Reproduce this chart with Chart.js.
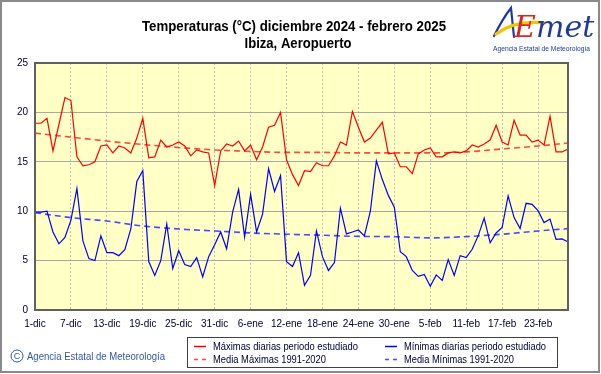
<!DOCTYPE html>
<html>
<head>
<meta charset="utf-8">
<script src="https://cdn.jsdelivr.net/npm/chart.js@4.4.1/dist/chart.umd.min.js"></script>
<style>
html,body{margin:0;padding:0;background:#fff;}
canvas{display:block;}
</style>
</head>
<body>
<canvas id="c" width="601" height="374"></canvas>
<script>
// ---- Data ----
const tickLabels = ['1-dic','7-dic','13-dic','19-dic','25-dic','31-dic','6-ene','12-ene','18-ene','24-ene','30-ene','5-feb','11-feb','17-feb','23-feb'];
const tickDays = [0,6,12,18,24,30,36,42,48,54,60,66,72,78,84];

const maxDaily = [
  18.9,18.9,19.4,16.1,18.8,21.5,21.2,15.5,14.6,14.7,
  15.0,16.6,16.7,15.9,16.6,16.4,15.9,17.4,19.4,15.4,
  15.5,17.2,16.5,16.7,17.0,16.6,15.6,16.2,16.0,15.9,
  12.6,16.1,16.8,16.6,17.1,16.1,16.7,15.2,16.5,18.5,
  18.7,20.0,15.2,13.7,12.6,14.1,14.0,14.9,14.6,14.6,
  15.6,17.0,16.7,20.1,18.5,17.0,17.4,18.2,19.0,15.8,
  15.9,14.5,14.5,13.8,15.8,16.2,16.4,15.5,15.5,15.9,
  16.0,15.9,16.1,16.7,16.5,16.8,17.2,18.7,17.0,16.7,
  19.2,17.7,17.7,17.0,17.2,16.7,19.6,16.0,16.0,16.3
];
const minDaily = [
  9.9,9.9,10.0,7.9,6.7,7.35,9.1,12.3,7.0,5.2,
  5.0,7.5,5.8,5.8,5.5,6.1,8.2,13.0,14.1,4.9,
  3.5,5.0,8.7,4.2,6.0,4.6,4.4,5.3,3.35,5.4,
  6.6,7.9,6.2,9.9,12.2,7.4,11.7,7.9,9.7,14.3,
  12.0,13.6,4.9,4.4,5.8,2.5,3.5,8.0,5.4,4.0,
  4.8,10.3,7.7,7.9,8.1,7.5,10.0,15.1,13.2,11.6,
  10.4,5.9,5.4,4.0,3.4,3.6,2.4,3.55,3.0,5.1,
  3.5,5.5,5.3,6.15,7.5,9.3,6.8,7.8,8.35,11.55,
  9.35,8.25,10.8,10.7,10.05,8.85,9.2,7.15,7.2,6.9
];
const normDays = [0,6,12,18,24,30,36,42,48,54,60,66,72,78,84,89];
const normMax = [17.9,17.5,17.1,16.75,16.45,16.2,16.05,15.95,15.95,15.9,15.9,15.9,16.0,16.3,16.6,16.9];
const normMin = [9.85,9.35,9.0,8.5,8.2,8.0,7.8,7.67,7.57,7.45,7.42,7.3,7.43,7.67,8.0,8.24];

const seriesLabels = ['Máximas diarias periodo estudiado','Mínimas diarias periodo estudiado','Media Máximas 1991-2020','Media Mínimas 1991-2020'];
const titleLines = ['Temperaturas (°C) diciembre 2024 - febrero 2025','Ibiza, Aeropuerto'];

const pts = (xs, ys) => ys.map((v, i) => ({x: xs ? xs[i] : i, y: v}));
const FONT = '"Liberation Sans", Arial, sans-serif';

// draw text condensed to a given width if it is wider
function fitText(ctx, t, x, y, w) {
  const m = ctx.measureText(t).width;
  if (m <= w) { ctx.fillText(t, x, y); return; }
  ctx.save();
  ctx.translate(x, y);
  ctx.scale(w / m, 1);
  ctx.fillText(t, 0, 0);
  ctx.restore();
}

const decor = {
  id: 'decor',
  beforeDraw(chart) {
    const {ctx, chartArea: a} = chart;
    ctx.save();
    ctx.fillStyle = '#ffffff';
    ctx.fillRect(0, 0, chart.width, chart.height);
    ctx.fillStyle = '#FFFFC6';
    ctx.fillRect(a.left, a.top, a.right - a.left, a.bottom - a.top);
    ctx.restore();
  },
  afterDraw(chart) {
    const {ctx, chartArea: a} = chart;
    ctx.save();
    // plot frame
    ctx.strokeStyle = '#606060';
    ctx.lineWidth = 2;
    ctx.strokeRect(a.left, a.top, a.right - a.left, a.bottom - a.top);
    // outer frame
    ctx.strokeStyle = '#8a8a8a';
    ctx.lineWidth = 2;
    ctx.strokeRect(1, 1, chart.width - 3, chart.height - 3);

    // title
    ctx.fillStyle = '#000000';
    ctx.textAlign = 'center';
    ctx.textBaseline = 'alphabetic';
    ctx.font = 'bold 14px ' + FONT;
    fitText(ctx, titleLines[0], 294, 31, 304);
    fitText(ctx, titleLines[1], 298, 48, 107);

    // legend box
    ctx.strokeStyle = '#404040';
    ctx.lineWidth = 1;
    ctx.strokeRect(187.5, 337.5, 370, 30);
    const ds = chart.data.datasets;
    const slots = [[194, 346], [385, 346], [194, 359], [385, 359]];
    const widths = [145, 142, 113, 110];
    ctx.textAlign = 'left';
    ctx.textBaseline = 'middle';
    ctx.font = '11px ' + FONT;
    ds.forEach((d, k) => {
      const [x, y] = slots[k];
      ctx.strokeStyle = d.borderColor;
      ctx.lineWidth = 1.5;
      ctx.setLineDash(d.borderDash ? [4, 4] : []);
      ctx.beginPath();
      ctx.moveTo(x, y + 0.5);
      ctx.lineTo(x + 12, y + 0.5);
      ctx.stroke();
      ctx.setLineDash([]);
      ctx.fillStyle = '#000033';
      fitText(ctx, d.label, x + 19, y + 1, widths[k]);
    });

    // copyright
    ctx.fillStyle = '#3355aa';
    ctx.strokeStyle = '#3355aa';
    ctx.lineWidth = 1;
    ctx.beginPath();
    ctx.arc(17, 356, 6, 0, Math.PI * 2);
    ctx.stroke();
    ctx.font = '9px ' + FONT;
    ctx.textAlign = 'center';
    ctx.fillText('C', 17, 356.5);
    ctx.textAlign = 'left';
    ctx.font = '11px ' + FONT;
    fitText(ctx, 'Agencia Estatal de Meteorología', 27, 356.5, 138);

    // logo
    ctx.lineCap = 'round';
    ctx.strokeStyle = '#1f3a9a';
    ctx.lineWidth = 2.2;
    ctx.beginPath();
    ctx.moveTo(494, 36);
    ctx.quadraticCurveTo(503, 18, 511, 8);
    ctx.lineTo(514, 37);
    ctx.stroke();
    ctx.strokeStyle = '#f5c400';
    ctx.lineWidth = 3.2;
    ctx.beginPath();
    ctx.moveTo(496, 34);
    ctx.quadraticCurveTo(515, 20, 545, 23);
    ctx.stroke();
    ctx.font = 'italic 30px "DejaVu Serif", serif';
    ctx.textBaseline = 'alphabetic';
    ctx.fillStyle = '#d8281e';
    ctx.fillText('E', 514, 37);
    ctx.fillStyle = '#1f3a9a';
    fitText(ctx, 'met', 536, 37, 60);
    ctx.font = '7px ' + FONT;
    ctx.fillStyle = '#1f3a9a';
    ctx.textAlign = 'left';
    fitText(ctx, 'Agencia Estatal de Meteorología', 493, 51, 97);
    ctx.restore();
  }
};

new Chart(document.getElementById('c'), {
  type: 'line',
  data: {
    datasets: [
      {label: seriesLabels[0], data: pts(null, maxDaily), borderColor: '#ff0000', borderWidth: 1.2, pointRadius: 0, tension: 0},
      {label: seriesLabels[1], data: pts(null, minDaily), borderColor: '#0000ff', borderWidth: 1.2, pointRadius: 0, tension: 0},
      {label: seriesLabels[2], data: pts(normDays, normMax), borderColor: '#ff4a3a', borderWidth: 1.6, borderDash: [6, 4], pointRadius: 0, cubicInterpolationMode: 'monotone'},
      {label: seriesLabels[3], data: pts(normDays, normMin), borderColor: '#4a4aff', borderWidth: 1.6, borderDash: [6, 4], pointRadius: 0, cubicInterpolationMode: 'monotone'}
    ]
  },
  options: {
    responsive: false,
    animation: false,
    devicePixelRatio: 1,
    layout: {padding: {left: 0, top: 63, right: 33, bottom: 0}},
    plugins: {legend: {display: false}, title: {display: false}, tooltip: {enabled: false}},
    scales: {
      x: {
        type: 'linear', min: 0, max: 89,
        afterFit: s => { s.height = 64; },
        afterBuildTicks: s => { s.ticks = tickDays.map(v => ({value: v})); },
        ticks: {
          autoSkip: false, maxRotation: 0, padding: 8,
          color: '#000033',
          font: {family: FONT, size: 10},
          callback: (v) => tickLabels[tickDays.indexOf(v)]
        },
        grid: {color: '#bdbdbd', lineWidth: 1, drawTicks: false},
        border: {display: true, color: '#606060', width: 2, dash: [2, 2]}
      },
      y: {
        min: 0, max: 25,
        afterFit: s => { s.width = 35; },
        ticks: {
          stepSize: 5, padding: 7,
          color: '#000033',
          font: {family: FONT, size: 10}
        },
        grid: {color: '#a8a8a8', lineWidth: 1, drawTicks: false},
        border: {display: true, color: '#606060', width: 2}
      }
    }
  },
  plugins: [decor]
});
</script>
</body>
</html>
